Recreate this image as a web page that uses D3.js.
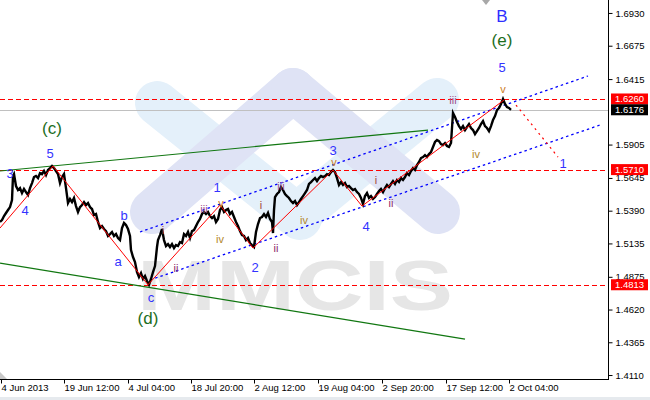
<!DOCTYPE html>
<html><head><meta charset="utf-8">
<script src="https://cdn.jsdelivr.net/npm/d3@7"></script>
<style>
body{margin:0;background:#fff;}
svg{display:block;font-family:"Liberation Sans",Arial,sans-serif;}
</style>
</head><body>
<svg id="c" width="650" height="400"></svg>
<script>
// ---------- DATA ----------
const xTickBars = [1, 64, 128, 191, 254, 318, 382, 446, 509];
const xTickLabels = ["4 Jun 2013", "19 Jun 12:00", "4 Jul 04:00", "18 Jul 20:00", "2 Aug 12:00",
  "19 Aug 04:00", "2 Sep 20:00", "17 Sep 12:00", "2 Oct 04:00"];
const yTickValues = [1.4110, 1.4365, 1.4620, 1.4875, 1.5135, 1.5390, 1.5645, 1.5905, 1.6415, 1.6675, 1.6930];
const levelValues = [1.6260, 1.5710, 1.4813];
const currentPrice = 1.6176;

// bar index (H4 bars) and close prices
const bars = [
  0,2,4,6,8,10,12,13,14,16,
  18,20,22,24,26,28,30,32,34,36,
  38,40,42,44,46,48,50,52,54,56,
  58,60,62,64,66,68,70,72,74,76,
  78,80,82,84,86,88,90,92,94,96,
  98,100,102,104,106,108,110,112,114,116,
  118,120,122,124,126,128,130,131,133,135,
  137,139,141,143,145,147,149,151,153,155,
  157,158,160,162,164,166,168,170,172,174,
  176,178,180,182,184,186,188,190,192,194,
  196,198,200,202,204,206,208,210,212,214,
  216,218,220,222,224,226,228,230,232,234,
  236,238,240,242,244,246,248,250,252,254,
  256,258,260,262,264,266,268,270,272,273,
  274,275,277,279,281,283,285,287,289,291,
  293,295,297,299,301,303,305,307,309,311,
  313,315,317,319,321,323,325,327,329,331,
  333,335,337,339,341,343,345,347,349,351,
  353,355,357,359,361,363,365,367,369,371,
  373,375,377,379,381,383,385,387,389,391,
  393,395,397,399,401,403,405,407,409,411,
  413,415,417,419,421,423,425,427,429,431,
  433,435,437,439,441,443,445,447,449,451,
  452,453,455,457,459,461,463,465,467,469,
  471,473,475,477,479,481,483,485,487,489,
  491,493,495,497,499,501,503,505,507,509,
  511];
const closes = [
  1.5302,1.5317,1.5348,1.5372,1.5395,1.5418,1.5473,1.5660,1.5675,1.5582,
  1.5551,1.5566,1.5527,1.5559,1.5535,1.5512,1.5566,1.5605,1.5652,1.5660,
  1.5644,1.5683,1.5675,1.5699,1.5668,1.5707,1.5722,1.5738,1.5722,1.5699,
  1.5675,1.5605,1.5652,1.5675,1.5566,1.5450,1.5481,1.5457,1.5489,1.5426,
  1.5380,1.5418,1.5434,1.5457,1.5434,1.5450,1.5418,1.5403,1.5356,1.5364,
  1.5302,1.5255,1.5270,1.5247,1.5231,1.5193,1.5208,1.5224,1.5193,1.5208,
  1.5177,1.5161,1.5255,1.5294,1.5278,1.5247,1.5193,1.5083,1.5029,1.4990,
  1.4912,1.4873,1.4904,1.4858,1.4881,1.4842,1.4813,1.4858,1.4912,1.4959,
  1.5107,1.5161,1.5200,1.5247,1.5161,1.5115,1.5130,1.5107,1.5130,1.5099,
  1.5122,1.5115,1.5146,1.5138,1.5208,1.5193,1.5224,1.5177,1.5231,1.5239,
  1.5270,1.5302,1.5325,1.5364,1.5380,1.5364,1.5380,1.5348,1.5333,1.5348,
  1.5302,1.5325,1.5395,1.5418,1.5380,1.5395,1.5403,1.5364,1.5380,1.5341,
  1.5302,1.5270,1.5231,1.5200,1.5193,1.5161,1.5177,1.5138,1.5122,1.5107,
  1.5224,1.5286,1.5333,1.5341,1.5364,1.5341,1.5372,1.5325,1.5302,1.5216,
  1.5395,1.5496,1.5520,1.5535,1.5574,1.5551,1.5520,1.5504,1.5489,1.5465,
  1.5450,1.5465,1.5434,1.5457,1.5481,1.5504,1.5527,1.5551,1.5598,1.5613,
  1.5629,1.5644,1.5621,1.5644,1.5660,1.5652,1.5660,1.5675,1.5668,1.5691,
  1.5707,1.5691,1.5644,1.5590,1.5613,1.5590,1.5605,1.5574,1.5582,1.5566,
  1.5551,1.5559,1.5535,1.5520,1.5489,1.5442,1.5504,1.5527,1.5489,1.5504,
  1.5481,1.5496,1.5520,1.5543,1.5559,1.5535,1.5566,1.5590,1.5574,1.5598,
  1.5621,1.5598,1.5629,1.5613,1.5644,1.5629,1.5652,1.5683,1.5668,1.5699,
  1.5722,1.5707,1.5746,1.5769,1.5800,1.5808,1.5823,1.5808,1.5831,1.5847,
  1.5886,1.5925,1.5940,1.5932,1.5909,1.5901,1.5917,1.5894,1.5886,1.5917,
  1.6034,1.6151,1.6120,1.6081,1.6049,1.6026,1.6049,1.6018,1.6042,1.6065,
  1.6034,1.6018,1.5987,1.6010,1.6034,1.6065,1.6088,1.6049,1.6034,1.6010,
  1.6049,1.6096,1.6127,1.6174,1.6190,1.6221,1.6260,1.6221,1.6197,1.6190,
  1.6176];

// analysis lines: [bar, price]
const waveLine = [[0,1.5255],[53,1.5738],[148,1.4813],[220,1.5434],[253,1.5099],[333,1.5707],[362,1.5426],[504,1.6252]];
const projLine = [[516,1.6213],[558,1.5808]];
const greenUpper = [[0,1.5699],[428,1.6018]];
const greenLower = [[0,1.4982],[465,1.4390]];
const channelUpper = [[140,1.5224],[588,1.6439]];
const channelLower = [[150,1.4850],[600,1.6057]];

// wave labels: text, bar, price
const degreeLabels = [["(c)",52,1.6034],["(d)",148,1.4554],["(e)",502,1.6712]];
const topLabels = [["B",502,1.6899]];
const waveLabels = [["5",50,1.5839],["3",10,1.5683],["4",25,1.5395],["b",124,1.5356],["a",118,1.4998],
  ["c",151,1.4710],["1",217,1.5574],["2",255,1.4951],["3",333,1.5855],["4",366,1.5270],["5",502,1.6509],["1",563,1.5761]];
const subLabels = [["i",163,1.5239],["ii",176,1.4943],["iii",204,1.5403],["iv",220,1.5169],["v",221,1.5450],
  ["i",261,1.5434],["ii",276,1.5099],["iii",281,1.5582],["iv",304,1.5317],["v",334,1.5769],
  ["i",376,1.5629],["ii",391,1.5450],["iii",453,1.6252],["iv",476,1.5831],["v",503,1.6338]];

// ---------- DRAW ----------
if (bars.length !== closes.length) console.error("length mismatch", bars.length, closes.length);
const svg = d3.select("#c");
const plotW = 608, plotH = 379;
const x = d3.scaleLinear().domain([0, 608]).range([0, plotW]);
const y = d3.scaleLinear().domain([1.4079, 1.7031]).range([plotH, 0]);

// frame bottom strip
svg.append("rect").attr("x",0).attr("y",397).attr("width",650).attr("height",3).attr("fill","#e6eaee");

// watermark logo (decorative)
const wm = svg.append("g").attr("stroke-linecap","round").attr("fill","none");
const lb = "#e4f0fa", lv = "#dfe3f5";
[[157,103,300,218,lb],[437,100,297,215,lb]].forEach(s=>wm.append("line").attr("x1",s[0]).attr("y1",s[1]).attr("x2",s[2]).attr("y2",s[3]).attr("stroke",s[4]).attr("stroke-width",44));
[[152,212,293,90,lv],[293,90,438,212,lv]].forEach(s=>wm.append("line").attr("x1",s[0]).attr("y1",s[1]).attr("x2",s[2]).attr("y2",s[3]).attr("stroke",s[4]).attr("stroke-width",44));
svg.append("text").attr("x",137).attr("y",310).attr("font-size",70).attr("font-weight","bold")
  .attr("textLength",316).attr("lengthAdjust","spacingAndGlyphs").attr("fill","#e6e6e6").text("MMCIS");

const line = d3.line().x(d=>x(d[0])).y(d=>y(d[1]));

// horizontal levels
svg.append("line").attr("x1",0).attr("x2",plotW).attr("y1",Math.round(y(currentPrice))+0.5).attr("y2",Math.round(y(currentPrice))+0.5)
  .attr("stroke","#c0c0c0").attr("stroke-width",1);
levelValues.forEach(v=>{
  svg.append("line").attr("x1",0).attr("x2",plotW).attr("y1",Math.round(y(v))+0.5).attr("y2",Math.round(y(v))+0.5)
    .attr("stroke","#ff0000").attr("stroke-width",1).attr("stroke-dasharray","5,3");
});

// green trend lines
[greenUpper, greenLower].forEach(l=>svg.append("path").attr("d",line(l)).attr("stroke","#117711").attr("stroke-width",1.2).attr("fill","none"));
// blue channel
[channelUpper, channelLower].forEach(l=>svg.append("path").attr("d",line(l)).attr("stroke","#0000ff").attr("stroke-width",1.3).attr("stroke-dasharray","2.5,3").attr("fill","none"));

// price
const series = bars.map((b,i)=>[b, closes[i]]);
svg.append("path").attr("d",line(series)).attr("stroke","#000").attr("stroke-width",2.4).attr("fill","none").attr("stroke-linejoin","miter");

// wave lines
svg.append("path").attr("d",line(waveLine)).attr("stroke","#ff0000").attr("stroke-width",1).attr("fill","none");
svg.append("path").attr("d",line(projLine)).attr("stroke","#ff0000").attr("stroke-width",1.2).attr("stroke-dasharray","2,4").attr("fill","none");

// labels
function lbl(arr, size, colorFn){
  arr.forEach(d=>svg.append("text").attr("x",x(d[1])).attr("y",y(d[2])).attr("text-anchor","middle")
    .attr("dominant-baseline","central").attr("font-size",size).attr("fill",colorFn(d[0])).text(d[0]));
}
lbl(degreeLabels, 17, ()=>"#1d6e1d");
lbl(topLabels, 17, ()=>"#2e2eff");
lbl(waveLabels, 13, ()=>"#3333ff");
const subCol = {"i":"#a3453a","ii":"#8a2a6a","iii":"#a0508a","iv":"#b3862a","v":"#cc7a22"};
lbl(subLabels, 11, t=>subCol[t]);

// small gray markers
svg.append("path").attr("d","M482,0L490,0L486,5Z").attr("fill","#a8a8a8");
svg.append("path").attr("d","M0,372L0,379L7,379Z").attr("fill","#c8c8c8");

// axes
const yAxis = d3.axisRight(y).tickValues(yTickValues).tickSize(4).tickPadding(3).tickFormat(d3.format(".4f"));
const ga = svg.append("g").attr("transform",`translate(${plotW+0.5},0)`).call(yAxis);
ga.select(".domain").remove();
ga.selectAll("text").attr("font-size",9.5).attr("font-family","Liberation Sans, Arial, sans-serif").attr("fill","#000");
ga.selectAll("line").attr("stroke","#000");

const xAxis = d3.axisBottom(x).tickValues(xTickBars).tickSize(4).tickFormat((d,i)=>xTickLabels[i]);
const gx = svg.append("g").attr("transform",`translate(0,${plotH+0.5})`).call(xAxis);
gx.select(".domain").remove();
gx.selectAll("text").attr("text-anchor","start").attr("y",11.5).attr("dy",null).attr("x",0)
  .attr("font-size",9.5).attr("font-family","Liberation Sans, Arial, sans-serif").attr("fill","#000");
gx.selectAll("line").attr("stroke","#000");

svg.append("line").attr("x1",plotW+0.5).attr("x2",plotW+0.5).attr("y1",0).attr("y2",plotH+1).attr("stroke","#000");
svg.append("line").attr("x1",0).attr("x2",plotW+1).attr("y1",plotH+0.5).attr("y2",plotH+0.5).attr("stroke","#000");

// price boxes
const boxes = levelValues.map(v=>[v,"#ff0000"]).concat([[currentPrice,"#000000"]]);
boxes.forEach(b=>{
  const yy = y(b[0]);
  svg.append("rect").attr("x",611).attr("y",yy-5.5).attr("width",37).attr("height",11).attr("fill",b[1]);
  svg.append("text").attr("x",615).attr("y",yy).attr("dominant-baseline","central").attr("font-size",9.5)
    .attr("fill","#fff").text(d3.format(".4f")(b[0]));
});
</script>
</body></html>
